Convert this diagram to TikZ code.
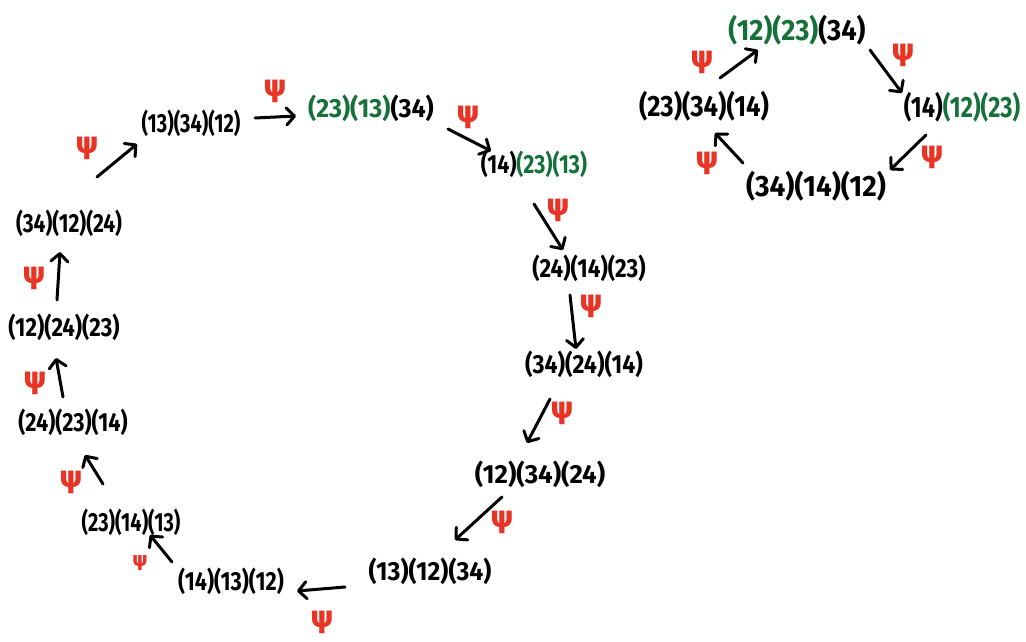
\documentclass[tikz,border=0pt]{standalone}
\usepackage{fontspec}
\usepackage{graphicx}
\setmainfont{Fira Sans}
\newfontfamily\psifont{DejaVu Sans}
\usetikzlibrary{arrows.meta,calc}
\definecolor{pgreen}{RGB}{22,112,58}
\definecolor{pred}{RGB}{232,52,36}
\newcommand{\gr}[1]{\textcolor{pgreen}{#1}}
% cycle text, stretched: optional horizontal factor, fixed vertical factor
\newcommand{\cyc}[2][0.95]{\scalebox{#1}[1.25]{#2}}
\newcommand{\cycb}[2][1.3]{\scalebox{#1}[1.4]{#2}}
\tikzset{
  perm/.style={inner sep=0pt, font=\fontsize{21}{24}\selectfont\bfseries},
  psilab/.style={inner sep=0pt, text=pred, font=\fontsize{30}{32}\selectfont\psifont\bfseries},
  arr/.style={line width=3pt, line cap=round, line join=round,
    -{Straight Barb[length=8pt,width=17pt,round]}}
}
\begin{document}
\begin{tikzpicture}[x=1pt,y=-1pt]
\useasboundingbox (0,0) rectangle (1026,642);
\clip (0,0) rectangle (1026,642);
\fill[white] (0,0) rectangle (1026,642);

% ---- big cycle ----
\node[perm] (n1)  at (191,123) {\cyc[0.95]{(13)(34)(12)}};
\node[perm] (n2)  at (371,108) {\cyc[1.19]{\gr{(23)(13)}(34)}};
\node[perm] (n3)  at (534,164) {\cyc[1.02]{(14)\gr{(23)(13)}}};
\node[perm] (n4)  at (589,268) {\cyc[1.07]{(24)(14)(23)}};
\node[perm] (n5)  at (584,364) {\cyc[1.10]{(34)(24)(14)}};
\node[perm] (n6)  at (540,474) {\cyc[1.23]{(12)(34)(24)}};
\node[perm] (n7)  at (430,571) {\cyc[1.18]{(13)(12)(34)}};
\node[perm] (n8)  at (231,581) {\cyc[1.03]{(14)(13)(12)}};
\node[perm] (n9)  at (131,522) {\cyc[0.95]{(23)(14)(13)}};
\node[perm] (n10) at (73,422)  {\cyc[1.03]{(24)(23)(14)}};
\node[perm] (n11) at (64,327)  {\cyc[1.06]{(12)(24)(23)}};
\node[perm] (n12) at (69,223)  {\cyc[1.00]{(34)(12)(24)}};

\draw[arr] ($(n12)+(28,-46)$) -- ($(n1)+(-54,21)$);
\draw[arr] ($(n1)+(64,-5)$)   -- ($(n2)+(-75,8)$);
\draw[arr] ($(n2)+(77,21)$)   -- ($(n3)+(-43,-13)$);
\draw[arr] ($(n3)+(0,40)$)    -- ($(n4)+(-26,-18)$);
\draw[arr] ($(n4)+(-19,27)$)  -- ($(n5)+(-8,-15)$);
\draw[arr] ($(n5)+(-34,35)$)  -- ($(n6)+(-13,-31)$);
\draw[arr] ($(n6)+(-38,23)$)  -- ($(n7)+(25,-31)$);
\draw[arr] ($(n7)+(-85,16)$)  -- ($(n8)+(66,10)$);
\draw[arr] ($(n8)+(-59,-19)$) -- ($(n9)+(19,13)$);
\draw[arr] ($(n9)+(-28,-38)$) -- ($(n10)+(12,33)$);
\draw[arr] ($(n10)+(-10,-25)$) -- ($(n11)+(-8,31)$);
\draw[arr] ($(n11)+(-7,-27)$) -- ($(n12)+(-9,29)$);

\node[psilab] (q1)  at (87,148)  {ψ};
\node[psilab] (q2)  at (275,91)  {ψ};
\node[psilab] (q3)  at (468,117) {ψ};
\node[psilab] (q4)  at (558,210) {ψ};
\node[psilab] (q5)  at (591,306) {ψ};
\node[psilab] (q6)  at (562,413) {ψ};
\node[psilab] (q7)  at (502,522) {ψ};
\node[psilab] (q8)  at (322,622) {ψ};
\node[psilab, font=\fontsize{20}{22}\selectfont\psifont\bfseries] (q9) at (140,563) {ψ};
\node[psilab] (q10) at (71,482)  {ψ};
\node[psilab] (q11) at (35,383)  {ψ};
\node[psilab] (q12) at (34,278)  {ψ};

% ---- small cycle ----
\node[perm] (m1) at (797,30)  {\cycb[1.30]{\gr{(12)(23)}(34)}};
\node[perm] (m2) at (962,107) {\cycb[1.12]{(14)\gr{(12)(23)}}};
\node[perm] (m3) at (816,186) {\cycb[1.33]{(34)(14)(12)}};
\node[perm] (m4) at (704,106) {\cycb[1.22]{(23)(34)(14)}};

\draw[arr] ($(m4)+(16,-28)$)  -- ($(m1)+(-39,20)$);
\draw[arr] ($(m1)+(73,20)$)   -- ($(m2)+(-60,-14)$);
\draw[arr] ($(m2)+(-36,28)$)  -- ($(m3)+(74,-16)$);
\draw[arr] ($(m3)+(-73,-23)$) -- ($(m4)+(11,27)$);

\node[psilab] (r1) at (702,62)  {ψ};
\node[psilab] (r2) at (903,55)  {ψ};
\node[psilab] (r3) at (932,157) {ψ};
\node[psilab] (r4) at (707,163) {ψ};
\end{tikzpicture}
\end{document}
